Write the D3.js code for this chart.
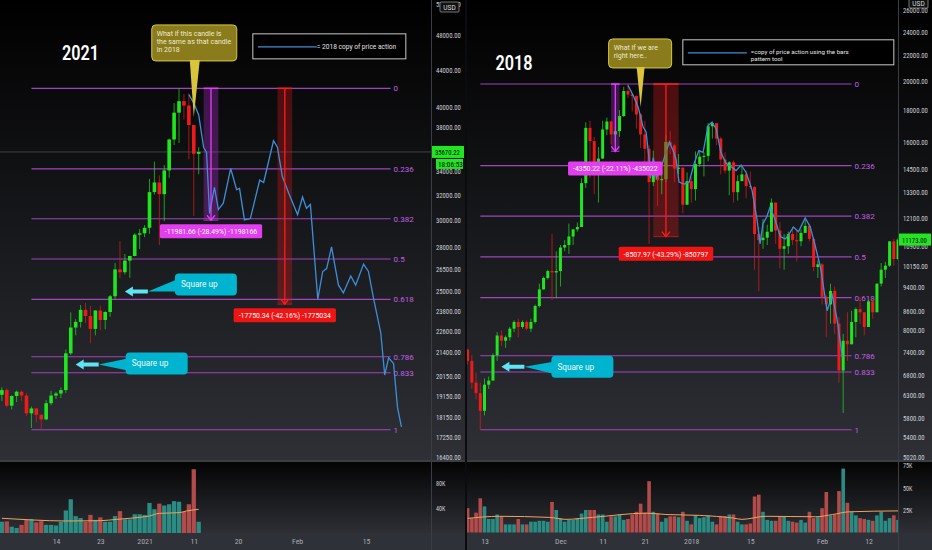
<!DOCTYPE html>
<html>
<head>
<meta charset="utf-8">
<title>BTC 2021 vs 2018</title>
<script src="https://cdn.jsdelivr.net/npm/d3@7/dist/d3.min.js"></script>
<style>
  html, body { margin: 0; padding: 0; background: #000; }
  svg { display: block; }
  text { font-family: Roboto, "Liberation Sans", sans-serif; }
  .ax text, text.ax { font-family: "Liberation Sans Narrow", "Roboto Condensed", Roboto, sans-serif; }
</style>
</head>
<body>
<svg id="chart" width="932" height="550"></svg>
<script>
const parseDay = d3.timeParse('%Y-%m-%d');

// ---------- 2021 panel (left) ----------
const start2021 = '2020-12-03';
// [open, high, low, close], one per day
const candles2021 = [
  [19210,19580,18900,19440],[19440,19530,18600,18680],[18680,19170,18500,19150],[19150,19420,18860,19360],
  [19360,19420,18900,19170],[19170,19290,18200,18320],[18320,18640,17650,18550],[18550,18560,17910,18250],
  [18250,18270,17570,18040],[18040,18950,18000,18800],[18800,19400,18700,19170],[19170,19350,19000,19270],
  [19270,19570,19050,19440],[19440,21560,19300,21350],[21350,23700,21250,22800],[22800,23290,22350,23130],
  [23130,24140,22800,23850],[23850,24280,23070,23480],[23480,24100,21900,22720],[22720,23830,22350,23810],
  [23810,24100,22650,23240],[23240,23770,22700,23720],[23720,24770,23430,24690],[24690,26870,24500,26440],
  [26440,28420,25850,26250],[26250,27500,26100,27040],[27040,27380,25880,27360],[27360,28990,27330,28890],
  [28890,29300,27850,28990],[28990,29600,28700,29400],[29400,33300,28950,32200],[32200,34800,32000,33000],
  [33000,33600,28130,32030],[32030,34500,29900,34030],[34030,36900,33400,36820],[36820,40400,36300,39430],
  [39430,41950,36500,40600],[40600,41350,38750,40150],[40150,41400,35000,38200],[38200,38250,30300,35500],
  [35500,36100,33700,35670]
];
// volume in thousands
const volume2021 = [18,18.6,10,8,13,21,22,17,19,13,13,12,18,36,54,27,24,18,29,21,25,18,18,27,35,22,22,30,30,29,48,38,47,44,46,51,50,34,46,102,18];
// volume average: [bar index, thousands]
const volAvg2021 = [[0,23.5],[6.4,20.8],[13,19.2],[20,19.7],[23.3,21.8],[28,25.1],[30,27.2],[32,31.5],[36,32.5],[37.5,35.2],[40,37.9]];
// blue projected 2018 pattern: [days after 2021-01-01, price]
const copy2021 = [[9,41300],[10,40400],[11,39200],[12,36100],[12.6,35600],[13.2,30500],[14.2,32600],[15,30800],[16,31300],
  [17.5,34200],[18.7,32400],[19.3,32500],[20.3,30000],[21.5,30100],[23.4,33200],[24.2,33000],[26.2,36700],[27,36100],
  [28,33500],[29.3,32100],[31.1,30400],[32.1,31800],[32.9,30900],[33.7,31200],[35.2,24500],[36.2,26300],[37,26500],
  [38,28000],[39.4,25400],[40.4,24900],[41.9,26000],[42.9,25400],[44.5,26800],[45.5,26300],[46.5,24600],[48,22500],
  [48.8,20200],[49.6,21100],[50.6,20800],[51.4,18600],[52.2,17700]];
const priceTicks2021 = [52000,48000,44000,40000,38000,34000,32000,30000,28000,26500,25000,23800,22600,21400,20150,19150,18150,17250,16400];
const volTicks2021 = [80, 40];
const timeTicks2021 = ['2020-12-14','2020-12-23','2021-01-01','2021-01-11','2021-01-20','2021-02-01','2021-02-15'];
const timeLabels2021 = ['14','23','2021','11','20','Feb','15'];
const ranges2021 = [
  {from:'2021-01-13', to:'2021-01-16', hi:41950, lo:29968, label:'-11981.66 (-28.49%) -1198166', kind:'magenta'},
  {from:'2021-01-28', to:'2021-01-31', hi:41950, lo:24200, label:'-17750.34 (-42.16%) -1775034', kind:'red'}
];

// ---------- 2018 panel (right) ----------
const start2018 = '2017-11-09';
const candles2018 = [
  [7450,7480,7050,7150],[7150,7300,6450,6600],[6600,6850,6200,6350],[6350,6600,5550,5950],[5950,6700,5850,6550],
  [6550,6750,6450,6650],[6650,7350,6650,7300],[7300,7950,7150,7850],[7850,8000,7550,7700],[7700,7850,7500,7800],
  [7800,8100,7700,8050],[8050,8300,7950,8250],[8250,8350,7800,8100],[8100,8300,8050,8250],[8250,8300,8000,8050],
  [8050,8350,7950,8250],[8250,8800,8200,8750],[8750,9500,8700,9300],[9300,9750,9300,9700],[9700,10000,9650,9950],
  [9950,11400,8950,9900],[9900,10700,9000,9950],
  [9950,10950,9400,10850],[10850,11150,10700,10950],[10950,11850,10600,11300],[11300,11600,10950,11600],
  [11600,11900,11500,11700],[11700,14000,11700,13750],[13750,17200,13500,16850],[16850,17300,14000,16050],
  [16050,16300,13200,14850],[14850,15700,12800,15050],[15050,17300,15050,16750],[16750,17500,16400,17250],
  [17250,17300,15850,16450],[16450,16900,16000,16650],[16650,18000,16300,17600],[17600,19600,17550,19300],
  [19300,19800,18800,19050],[19050,19150,17900,18950],[18950,19000,16800,17700],[17700,17800,15650,16450],
  [16450,17300,14800,15600],[15600,15800,11000,13800],[13800,15500,13600,14600],[14600,14650,12650,13900],
  [13900,14450,13200,13950],[13950,16400,13800,16000],[16000,16650,15300,15800],[15800,15900,13800,14500],
  [14500,15300,14200,14550],[14550,14600,12300,12700],[12700,14300,12700,13850],
  [13850,14050,12800,13450],[13450,15450,12900,14750],[14750,15450,14600,15150],[15150,15400,14100,15200],
  [15200,17150,14900,16950],[16950,17250,16200,17150],[17150,17150,15800,16200],[16200,16300,14200,15000],
  [15000,15400,14250,14400],[14400,14900,13150,14850],[14850,14950,12800,13300],[13300,14150,12900,13850],
  [13850,14650,13850,14200],[14200,14400,13000,13600],[13600,14350,13450,13550],[13550,13600,10000,11400],
  [11400,11700,9250,11150],[11150,12050,10800,11250],[11250,11800,10950,11500],[11500,13000,11500,12800],
  [12800,12800,11000,11550],[11550,11900,10050,10800],[10800,11400,10000,10900],[10900,11500,10600,11400],
  [11400,11700,10950,11150],[11150,11600,10300,11100],[11100,11600,10900,11450],[11450,12000,11450,11750],
  [11750,11850,11100,11200],[11200,11250,9950,10100],[10100,10350,9700,10200],
  [10200,10250,8800,9050],[9050,9100,7800,8800],[8800,9500,8200,9250],[9250,9400,7900,8200],[8200,8400,6600,6900],
  [6900,7900,5900,7700],[7700,8550,7150,7600],[7600,8600,7600,8250],[8250,8700,7800,8650],[8650,9050,8200,8550],
  [8550,8550,7850,8100],[8100,8950,8100,8900],[8900,8950,8350,8550],[8550,9500,8550,9500],[9500,10250,9400,10000],
  [10000,10300,9700,10150],[10150,11100,10100,11100],[11100,11200,10150,10400],[10400,11250,10350,11173]
];
const volume2018 = [27,16,22,38,29,15,15,20,18,9, 9,9,15,9,9,12,12,13,13,12, 34,25,16,12,14,14,16,21,25,25,
  25,20,20,12,18,18,20,14,15,20, 23,32,22,57,23,21,12,16,18,18, 17,23,13,9,19,16,17,19,12,9,
  18,18,20,20,12,9,9,10,40,42, 23,14,13,13,18,18,13,12,11,14, 11,23,16,17,27,45,19,20,46,71,
  33,23,19,16,15,14,13,19,23,13, 16,19,14];
const volAvg2018 = [[0,15.7],[7.5,18],[19.4,16.8],[23.3,14.6],[29.6,16.8],[42.3,21.5],[47,20],[55,19],[63,16],
  [65,14.6],[70.7,18],[82.5,17.5],[86.5,20],[90.4,23],[102,24]];
// blue bars-pattern copy: [days after 2018-01-01, price]
const copy2018 = [[-15,19700],[-13.8,19000],[-12.6,18200],[-11.4,16900],[-10.7,16600],[-10,15000],[-9.7,14000],[-9,15100],
  [-8.3,14000],[-7.1,14600],[-5.2,16000],[-4.3,15500],[-3.6,15000],[-2.9,13800],[-1.7,13700],[-0.5,13800],[0.7,14800],
  [1.8,15500],[2.8,15400],[4,17000],[4.9,17200],[5.9,16800],[7,15400],[8.2,14800],[9.4,14600],[10.6,14400],[11.8,14700],
  [13,14300],[14.4,13400],[15.6,12000],[16.3,11000],[17,11850],[17.9,12150],[18.7,12600],[19.9,12000],[21.1,11300],
  [22.3,11200],[23,11350],[24.2,11700],[25.4,11500],[27,12100],[28.2,11700],[29.4,10900],[30.6,10100],[32.2,8600],
  [33.4,9100],[34.6,8300],[35.8,7250]];
const priceTicks2018 = [26000,24000,22000,20000,18000,16000,14500,13300,12100,10900,10150,9400,8600,8000,7400,6800,6300,5800,5400,5020];
const volTicks2018 = [75, 50, 25];
const timeTicks2018 = ['2017-11-13','2017-12-01','2017-12-11','2017-12-21','2018-01-01','2018-01-15','2018-02-01','2018-02-12'];
const timeLabels2018 = ['13','Dec','11','21','2018','15','Feb','12'];
const ranges2018 = [
  {from:'2017-12-13', to:'2017-12-15', hi:19800, lo:15450, label:'-4350.22 (-22.11%) -435022', kind:'magenta'},
  {from:'2017-12-23', to:'2017-12-29', hi:19800, lo:11292, label:'-8507.97 (-43.29%) -850797', kind:'red'}
];

const fibLevels = [0, 0.236, 0.382, 0.5, 0.618, 0.786, 0.833, 1];

const panels = [
  {
    id: 'l', left: 0, plotRight: 431, axisRight: 465,
    start: start2021, candles: candles2021, volume: volume2021, volAvg: volAvg2021,
    copy: copy2021, copyBase: '2021-01-01',
    timeDomain: ['2020-12-14', '2021-02-15'], timeRange: [56, 366],
    priceDomain: [40000, 20150], priceRange: [107, 376],
    volDomain: [0, 40], volRange: [533, 508],
    priceTicks: priceTicks2021, volTicks: volTicks2021, timeTicks: timeTicks2021, timeLabels: timeLabels2021,
    fib: {hi: 41950, lo: 17570, from: '2020-12-09', to: '2021-02-20'},
    ranges: ranges2021, labelGap: 4,
    barW: 3.6, volW: 4.3,
    title: {text: '2021', date: '2020-12-19', price: 46000},
    note: {date: '2021-01-11', price: 39000, lines: ['What if this candle is', 'the same as that candle', 'in 2018'],
           dx: -42, dy: -92, w: 85, h: 36, tail: [-4, 6]},
    legend: {date: '2021-01-23', price: 48200, w: 153, h: 25, lines: ['= 2018 copy of price action'], lineW: 59},
    squares: [{date: '2020-12-28', price: 25000, boxDy: -18}, {date: '2020-12-18', price: 20750, boxDy: -12}],
    last: {price: 35670.22, timer: '18:06:53', line: true},
    usd: {dx: 9, y: 2}
  },
  {
    id: 'r', left: 467, plotRight: 898, axisRight: 932,
    start: start2018, candles: candles2018, volume: volume2018, volAvg: volAvg2018,
    copy: copy2018, copyBase: '2018-01-01',
    timeDomain: ['2017-11-13', '2018-02-12'], timeRange: [484.5, 868.5],
    priceDomain: [26000, 5020], priceRange: [10, 457],
    volDomain: [0, 25], volRange: [532.5, 510],
    priceTicks: priceTicks2018, volTicks: volTicks2018, timeTicks: timeTicks2018, timeLabels: timeLabels2018,
    fib: {hi: 19800, lo: 5550, from: '2017-11-12', to: '2018-02-08'},
    ranges: ranges2018, labelGap: 10,
    barW: 3.0, volW: 3.6,
    title: {text: '2018', date: '2017-11-20', price: 21400},
    note: {date: '2017-12-20', price: 18200, lines: ['What if we are', 'right here..'],
           dx: -32, dy: -68, w: 63, h: 29, tail: [-4, 4]},
    legend: {date: '2017-12-30', price: 23300, w: 211, h: 25,
             lines: ['=copy of price action using the bars', 'pattern tool'], lineW: 59},
    squares: [{date: '2017-11-17', price: 7000, boxDy: -11}],
    last: {price: 11173.00, timer: null, line: false},
    usd: {dx: 11, y: -2}
  }
];

const svg = d3.select('#chart');
const defs = svg.append('defs');

function vGrad(id, y1, y2, c1, c2) {
  const gr = defs.append('linearGradient').attr('id', id)
    .attr('gradientUnits', 'userSpaceOnUse')
    .attr('x1', 0).attr('x2', 0).attr('y1', y1).attr('y2', y2);
  gr.append('stop').attr('offset', 0).attr('stop-color', c1);
  gr.append('stop').attr('offset', 1).attr('stop-color', c2);
}
vGrad('bgMain', 0, 460, '#000000', '#2e3036');
vGrad('bgVol', 462, 533, '#040404', '#2d2f35');

svg.append('rect').attr('width', 932).attr('height', 550).attr('fill', '#000');

const UP = '#1fe61f', DOWN = '#ee1b1b';
const FIB = '#b04ad2';
const RANGE = {
  magenta: {fill: '#b52ed8', line: '#e040fb', box: '#e23ef0'},
  red: {fill: '#e01818', line: '#ff1c1c', box: '#f01515'}
};
const dayAt = (base, n) => new Date(parseDay(base).getTime() + n * 864e5);
// axis figures are narrow in the original, about 3.1px per character
const squeeze = sel => sel.attr('textLength', function () { return this.textContent.length * 3.1; })
  .attr('lengthAdjust', 'spacingAndGlyphs');

function drawPanel(p) {
  const x = d3.scaleTime().domain(p.timeDomain.map(parseDay)).range(p.timeRange);
  const y = d3.scaleLog().domain(p.priceDomain).range(p.priceRange);
  const yv = d3.scaleLinear().domain(p.volDomain).range(p.volRange);
  const t0 = parseDay(p.start);
  const bars = p.candles.map((c, i) => ({
    date: d3.timeDay.offset(t0, i), o: c[0], h: c[1], l: c[2], c: c[3], v: p.volume[i]
  }));
  const up = d => d.c >= d.o;
  const W = p.axisRight - p.left;
  const g = svg.append('g');

  // backgrounds
  g.append('rect').attr('x', p.left).attr('y', 0).attr('width', W).attr('height', 460).attr('fill', 'url(#bgMain)');
  g.append('rect').attr('x', p.left).attr('y', 460).attr('width', W).attr('height', 2).attr('fill', '#3a3d44');
  g.append('rect').attr('x', p.left).attr('y', 462).attr('width', W).attr('height', 71).attr('fill', 'url(#bgVol)');
  g.append('rect').attr('x', p.left).attr('y', 533).attr('width', W).attr('height', 17).attr('fill', '#2e3138');
  g.append('line').attr('x1', p.plotRight + 0.5).attr('x2', p.plotRight + 0.5).attr('y1', 0).attr('y2', 550)
    .attr('stroke', '#3a3d44').attr('stroke-width', 1);

  defs.append('clipPath').attr('id', 'main-' + p.id).append('rect')
    .attr('x', p.left).attr('y', 0).attr('width', p.plotRight - p.left).attr('height', 460);
  defs.append('clipPath').attr('id', 'vol-' + p.id).append('rect')
    .attr('x', p.left).attr('y', 462).attr('width', p.plotRight - p.left).attr('height', 71);

  const main = g.append('g').attr('clip-path', `url(#main-${p.id})`);

  // current price line
  if (p.last.line) {
    main.append('line').attr('x1', p.left).attr('x2', p.plotRight)
      .attr('y1', y(p.last.price)).attr('y2', y(p.last.price))
      .attr('stroke', '#50545a').attr('stroke-width', 1).attr('opacity', 0.7);
  }

  // fib retracement (log levels)
  const fx0 = x(parseDay(p.fib.from)), fx1 = x(parseDay(p.fib.to));
  const fy = lvl => y(p.fib.hi) + lvl * (y(p.fib.lo) - y(p.fib.hi));
  main.selectAll('line.fib').data(fibLevels).join('line').attr('class', 'fib')
    .attr('x1', fx0).attr('x2', fx1).attr('y1', fy).attr('y2', fy)
    .attr('stroke', FIB).attr('stroke-width', 1.1).attr('opacity', 0.9);
  main.selectAll('text.fib').data(fibLevels).join('text').attr('class', 'fib')
    .attr('x', fx1 + 3).attr('y', d => fy(d) + 3)
    .attr('fill', '#c45ee6').attr('font-size', 8)
    .text(d => d);

  // date/price range bands
  p.ranges.forEach(r => {
    const rx0 = x(parseDay(r.from)), rx1 = x(parseDay(r.to));
    main.append('rect').attr('x', rx0).attr('y', y(r.hi)).attr('width', rx1 - rx0)
      .attr('height', y(r.lo) - y(r.hi)).attr('fill', RANGE[r.kind].fill).attr('opacity', 0.32);
  });

  // candles
  const cg = main.selectAll('g.candle').data(bars).join('g').attr('class', 'candle');
  cg.append('line')
    .attr('x1', d => x(d.date)).attr('x2', d => x(d.date))
    .attr('y1', d => y(d.h)).attr('y2', d => y(d.l))
    .attr('stroke', d => up(d) ? UP : DOWN).attr('stroke-width', 0.9).attr('opacity', 0.75);
  cg.append('rect')
    .attr('x', d => x(d.date) - p.barW / 2).attr('width', p.barW)
    .attr('y', d => y(Math.max(d.o, d.c)))
    .attr('height', d => Math.max(1, Math.abs(y(d.o) - y(d.c))))
    .attr('fill', d => up(d) ? UP : DOWN);

  // copied price action (blue)
  main.append('path').datum(p.copy)
    .attr('d', d3.line().x(d => x(dayAt(p.copyBase, d[0]))).y(d => y(d[1])))
    .attr('fill', 'none').attr('stroke', '#3f8fd8').attr('stroke-width', 1.3);

  // range arrows + labels
  p.ranges.forEach(r => {
    const c = RANGE[r.kind];
    const rx0 = x(parseDay(r.from)), rx1 = x(parseDay(r.to));
    const cx = (rx0 + rx1) / 2, yh = y(r.hi), yl = y(r.lo);
    main.append('line').attr('x1', rx0).attr('x2', rx1).attr('y1', yh).attr('y2', yh)
      .attr('stroke', c.line).attr('stroke-width', 1.5);
    main.append('line').attr('x1', rx0).attr('x2', rx1).attr('y1', yl).attr('y2', yl)
      .attr('stroke', c.line).attr('stroke-width', 1).attr('opacity', 0.6);
    main.append('line').attr('x1', cx).attr('x2', cx).attr('y1', yh).attr('y2', yl)
      .attr('stroke', c.line).attr('stroke-width', 1.3);
    main.append('polyline').attr('points', `${cx - 4},${yl - 5} ${cx},${yl} ${cx + 4},${yl - 5}`)
      .attr('fill', 'none').attr('stroke', c.line).attr('stroke-width', 1.3);
    const lbl = main.append('g');
    const t = lbl.append('text').attr('x', cx).attr('y', yl + p.labelGap + 10)
      .attr('text-anchor', 'middle').attr('fill', '#fff').attr('font-size', 6.9).text(r.label);
    const tw = t.node().getComputedTextLength();
    lbl.insert('rect', 'text').attr('x', cx - tw / 2 - 5).attr('y', yl + p.labelGap)
      .attr('width', tw + 10).attr('height', 14).attr('rx', 1.5).attr('fill', c.box);
  });

  // callout note
  const n = p.note;
  const nx = x(parseDay(n.date)), ny = y(n.price);
  main.append('rect').attr('x', nx + n.dx).attr('y', ny + n.dy).attr('width', n.w).attr('height', n.h)
    .attr('rx', 4).attr('fill', '#8a7c1c').attr('stroke', '#dac83f').attr('stroke-width', 1);
  const by = ny + n.dy + n.h;
  main.append('polygon')
    .attr('points', `${nx + n.tail[0]},${by - 1} ${nx + n.tail[1]},${by - 1} ${nx},${ny}`)
    .attr('fill', '#d8c53c');
  main.append('g').selectAll('text').data(n.lines).join('text')
    .attr('x', nx + n.dx + 5).attr('y', (d, i) => ny + n.dy + 11.5 + i * 7.7)
    .attr('fill', '#eee9cf').attr('font-size', 7).text(d => d);

  // legend box
  const L = p.legend;
  const lx = x(parseDay(L.date)), ly = y(L.price);
  main.append('rect').attr('x', lx).attr('y', ly).attr('width', L.w).attr('height', L.h)
    .attr('fill', '#000').attr('stroke', '#c8c8c8').attr('stroke-width', 1);
  main.append('line').attr('x1', lx + 5).attr('x2', lx + 5 + L.lineW)
    .attr('y1', ly + 13).attr('y2', ly + 13).attr('stroke', '#3f8fd8').attr('stroke-width', 1.3);
  main.append('g').selectAll('text').data(L.lines).join('text')
    .attr('x', lx + L.lineW + 5 + (L.lines.length > 1 ? 4 : 0))
    .attr('y', (d, i) => ly + (L.lines.length > 1 ? 14 : 15.5) + i * 7)
    .attr('fill', '#e6e6e6').attr('font-size', L.lines.length > 1 ? 6.2 : 6.6).text(d => d);

  // year title
  main.append('text').attr('x', x(parseDay(p.title.date))).attr('y', y(p.title.price) + 7.5)
    .attr('text-anchor', 'middle').attr('fill', '#fff')
    .attr('font-family', '"Open Sans", sans-serif').attr('font-weight', 600).attr('font-size', 20)
    .attr('textLength', 37).attr('lengthAdjust', 'spacingAndGlyphs')
    .text(p.title.text);

  // square up callouts
  p.squares.forEach(s => {
    const tx = x(parseDay(s.date)), ty = y(s.price);
    const bx = tx + 50, bt = ty + s.boxDy;
    main.append('polygon')
      .attr('points', `${tx + 23},${ty} ${bx + 2},${bt + 6} ${bx + 2},${bt + 18}`)
      .attr('fill', '#00b4cf');
    main.append('rect').attr('x', bx).attr('y', bt).attr('width', 62).attr('height', 22).attr('rx', 4)
      .attr('fill', '#00b4cf');
    main.append('text').attr('x', bx + 6).attr('y', bt + 14).attr('fill', '#f2fbfd').attr('font-size', 8.2)
      .text('Square up');
    main.append('polygon')
      .attr('points', [[tx, ty], [tx + 8, ty - 5], [tx + 8, ty - 2], [tx + 23, ty - 2],
                       [tx + 23, ty + 2], [tx + 8, ty + 2], [tx + 8, ty + 5]].map(q => q.join(',')).join(' '))
      .attr('fill', '#5fe3f7');
  });

  // volume
  const vol = g.append('g').attr('clip-path', `url(#vol-${p.id})`);
  vol.selectAll('rect').data(bars).join('rect')
    .attr('x', d => x(d.date) - p.volW / 2).attr('width', p.volW)
    .attr('y', d => yv(d.v)).attr('height', d => yv(0) - yv(d.v))
    .attr('fill', d => up(d) ? '#2a8c82' : '#b24b49');
  vol.append('path').datum(p.volAvg)
    .attr('d', d3.line().curve(d3.curveMonotoneX)
      .x(d => x(new Date(t0.getTime() + d[0] * 864e5))).y(d => yv(d[1])))
    .attr('fill', 'none').attr('stroke', '#f0a35c').attr('stroke-width', 1);

  // price axis
  const pa = g.append('g').attr('class', 'ax').attr('transform', `translate(${p.plotRight + 1},0)`)
    .call(d3.axisRight(y).tickValues(p.priceTicks).tickFormat(d3.format('.2f')).tickSize(0).tickPadding(4));
  pa.select('.domain').remove();
  pa.selectAll('text').attr('fill', '#cfd1d6').attr('font-size', 7.8).call(squeeze);

  // volume axis
  const va = g.append('g').attr('class', 'ax').attr('transform', `translate(${p.plotRight + 1},0)`)
    .call(d3.axisRight(yv).tickValues(p.volTicks).tickFormat(d => d + 'K').tickSize(0).tickPadding(4));
  va.select('.domain').remove();
  va.selectAll('text').attr('fill', '#cfd1d6').attr('font-size', 7.8).call(squeeze);

  // time axis
  const ta = g.append('g').attr('class', 'ax').attr('transform', 'translate(0,533)')
    .call(d3.axisBottom(x).tickValues(p.timeTicks.map(parseDay))
      .tickFormat((d, i) => p.timeLabels[i]).tickSize(0).tickPadding(5));
  ta.select('.domain').remove();
  ta.selectAll('text').attr('fill', '#a9acb4').attr('font-size', 7.8);

  // last price label
  const ly2 = y(p.last.price);
  g.append('rect').attr('x', p.plotRight + 1).attr('y', ly2 - 6).attr('width', p.axisRight - p.plotRight - 2)
    .attr('height', 12).attr('fill', '#22e622');
  g.append('text').attr('class', 'ax').attr('x', p.plotRight + 4).attr('y', ly2 + 3)
    .attr('fill', '#000').attr('font-size', 7.8)
    .text(d3.format('.2f')(p.last.price)).call(squeeze);
  if (p.last.timer) {
    g.append('rect').attr('x', p.plotRight + 5).attr('y', ly2 + 7).attr('width', p.axisRight - p.plotRight - 7)
      .attr('height', 10).attr('fill', '#22e622');
    g.append('text').attr('class', 'ax').attr('x', p.plotRight + 7).attr('y', ly2 + 15)
      .attr('fill', '#000').attr('font-size', 7.5)
      .text(p.last.timer).call(squeeze);
  }

  // currency badge
  const ux = p.plotRight + p.usd.dx, uy = p.usd.y;
  g.append('rect').attr('x', ux).attr('y', uy).attr('width', 19).attr('height', 10).attr('rx', 1)
    .attr('fill', '#111').attr('stroke', '#8d9096').attr('stroke-width', 0.8);
  g.append('text').attr('x', ux + 9.5).attr('y', uy + 7.5).attr('text-anchor', 'middle')
    .attr('fill', '#dedede').attr('font-size', 6.5).text('USD');
}

panels.forEach(drawPanel);

// separator between the two charts
svg.append('rect').attr('x', 465).attr('y', 0).attr('width', 2).attr('height', 550).attr('fill', '#0b0c10');
</script>
</body>
</html>
